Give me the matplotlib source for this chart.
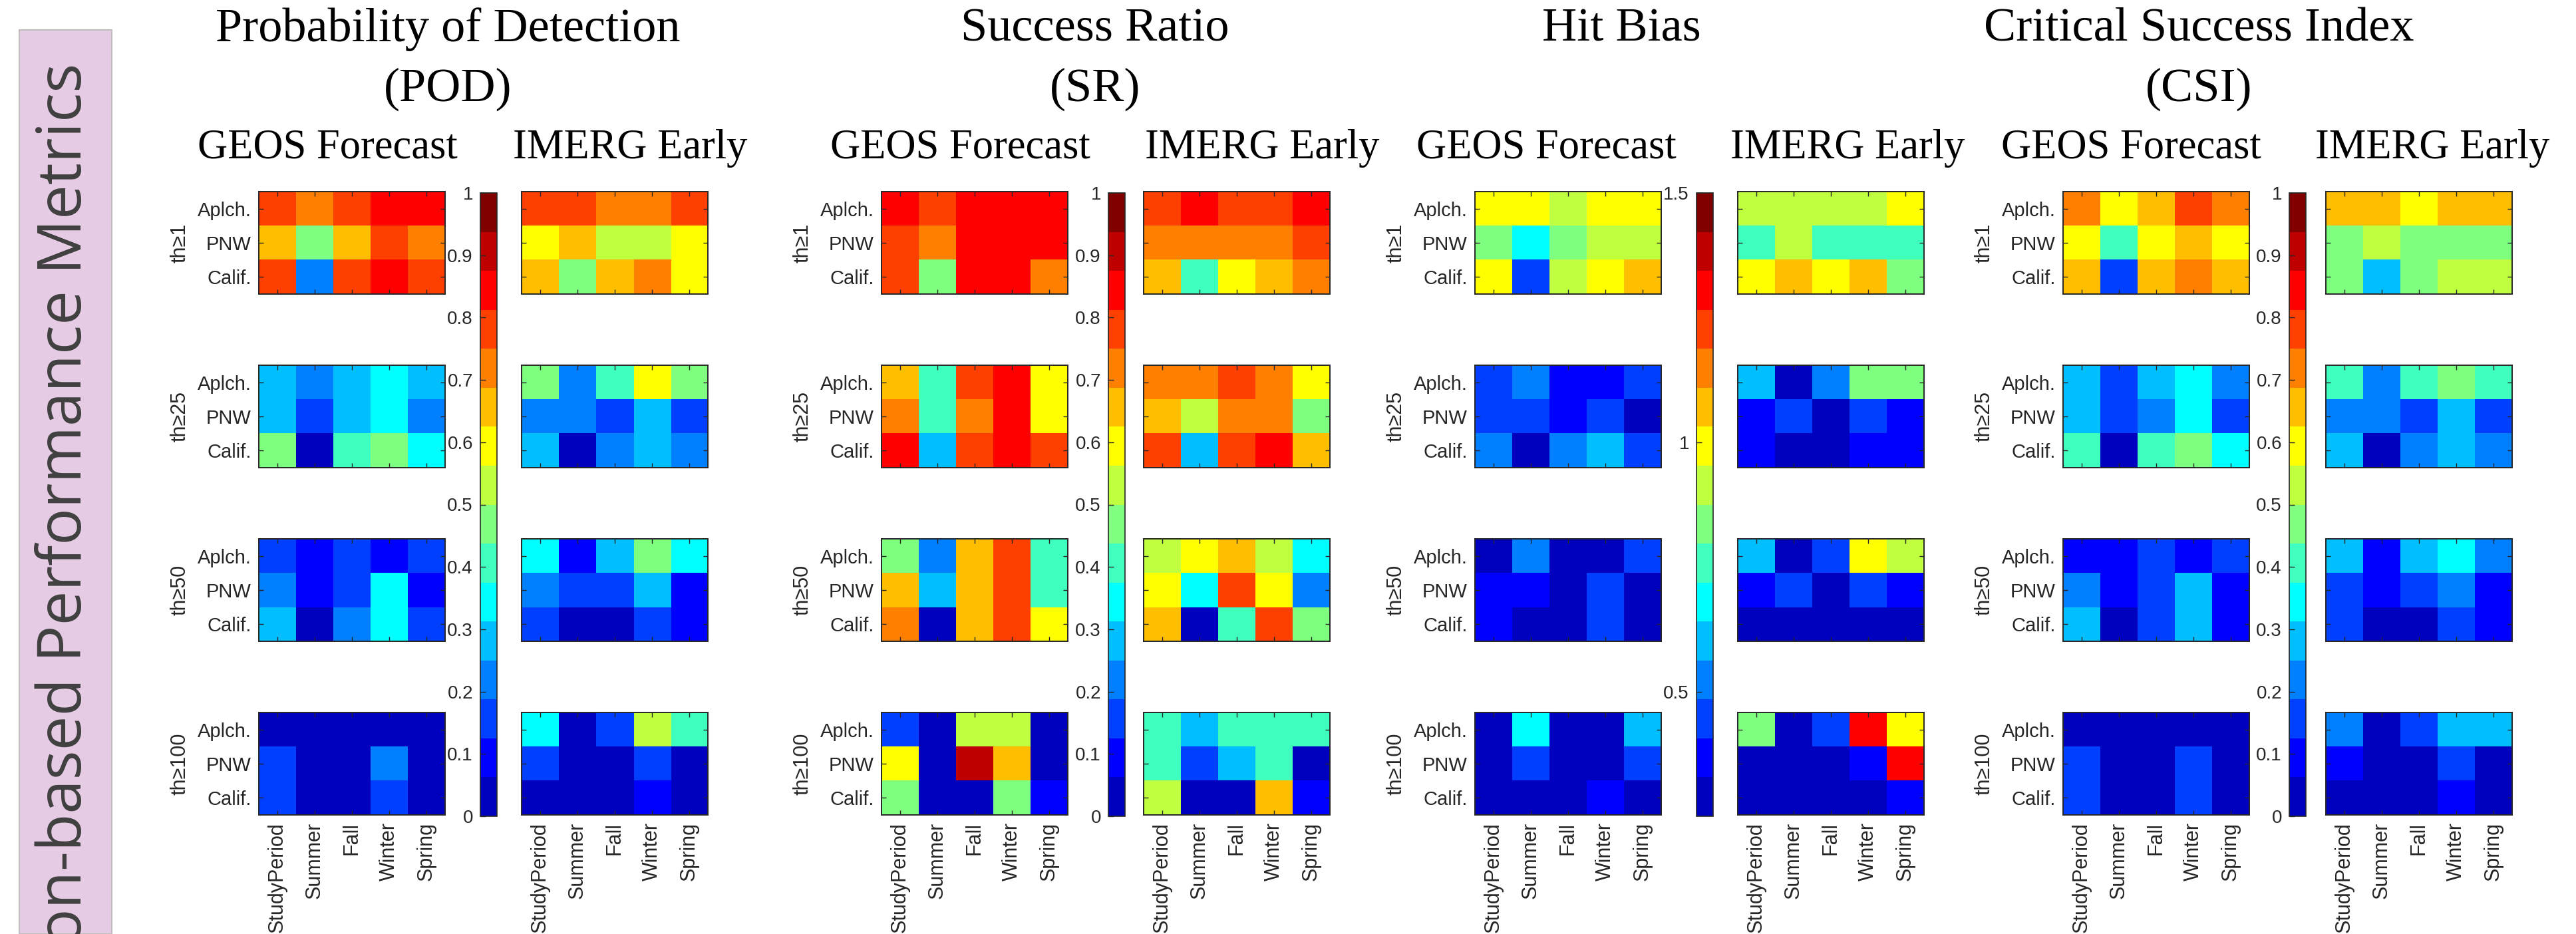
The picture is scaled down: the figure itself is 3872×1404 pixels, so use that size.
import numpy as np
import matplotlib
matplotlib.use("Agg")
import matplotlib.pyplot as plt
from matplotlib.colors import ListedColormap, Normalize
from matplotlib.patches import Rectangle
import matplotlib.cm as cm

# ---- data ----
regions = ["Aplch.", "PNW", "Calif."]
seasons = ["StudyPeriod", "Summer", "Fall", "Winter", "Spring"]
thresholds = ["th\u22651", "th\u226525", "th\u226550", "th\u2265100"]
sources = ["GEOS Forecast", "IMERG Early"]
metric_titles = ["Probability of Detection\n(POD)", "Success Ratio\n(SR)",
                 "Hit Bias\n ", "Critical Success Index\n(CSI)"]

pod_geos = [
    [[0.78, 0.72, 0.78, 0.84, 0.84], [0.66, 0.47, 0.66, 0.78, 0.72], [0.78, 0.22, 0.78, 0.84, 0.78]],
    [[0.28, 0.22, 0.28, 0.34, 0.28], [0.28, 0.16, 0.28, 0.34, 0.22], [0.47, 0.03, 0.41, 0.47, 0.34]],
    [[0.16, 0.09, 0.16, 0.09, 0.16], [0.22, 0.09, 0.16, 0.34, 0.09], [0.28, 0.03, 0.22, 0.34, 0.16]],
    [[0.03, 0.03, 0.03, 0.03, 0.03], [0.16, 0.03, 0.03, 0.22, 0.03], [0.16, 0.03, 0.03, 0.16, 0.03]],
]
pod_imerg = [
    [[0.78, 0.78, 0.72, 0.72, 0.78], [0.59, 0.66, 0.53, 0.53, 0.59], [0.66, 0.47, 0.66, 0.72, 0.59]],
    [[0.47, 0.22, 0.41, 0.59, 0.47], [0.22, 0.22, 0.16, 0.28, 0.16], [0.28, 0.03, 0.22, 0.28, 0.22]],
    [[0.34, 0.09, 0.28, 0.47, 0.34], [0.22, 0.16, 0.16, 0.28, 0.09], [0.16, 0.03, 0.03, 0.16, 0.09]],
    [[0.34, 0.03, 0.16, 0.53, 0.41], [0.16, 0.03, 0.03, 0.16, 0.03], [0.03, 0.03, 0.03, 0.09, 0.03]],
]
sr_geos = [
    [[0.84, 0.78, 0.84, 0.84, 0.84], [0.78, 0.72, 0.84, 0.84, 0.84], [0.78, 0.47, 0.84, 0.84, 0.72]],
    [[0.66, 0.41, 0.78, 0.84, 0.59], [0.72, 0.41, 0.72, 0.84, 0.59], [0.84, 0.28, 0.78, 0.84, 0.78]],
    [[0.47, 0.22, 0.66, 0.78, 0.41], [0.66, 0.28, 0.66, 0.78, 0.41], [0.72, 0.03, 0.66, 0.78, 0.59]],
    [[0.16, 0.03, 0.53, 0.53, 0.03], [0.59, 0.03, 0.91, 0.66, 0.03], [0.47, 0.03, 0.03, 0.47, 0.09]],
]
sr_imerg = [
    [[0.78, 0.84, 0.78, 0.78, 0.84], [0.72, 0.72, 0.72, 0.72, 0.78], [0.66, 0.41, 0.59, 0.66, 0.72]],
    [[0.72, 0.72, 0.78, 0.72, 0.59], [0.66, 0.53, 0.72, 0.72, 0.47], [0.78, 0.28, 0.78, 0.84, 0.66]],
    [[0.53, 0.59, 0.66, 0.53, 0.34], [0.59, 0.34, 0.78, 0.59, 0.22], [0.66, 0.03, 0.41, 0.78, 0.47]],
    [[0.41, 0.28, 0.41, 0.41, 0.41], [0.41, 0.16, 0.28, 0.41, 0.03], [0.53, 0.03, 0.03, 0.66, 0.09]],
]
hb_geos = [
    [[0.99, 0.99, 0.91, 0.99, 0.99], [0.84, 0.68, 0.84, 0.91, 0.91], [0.99, 0.45, 0.91, 0.99, 1.07]],
    [[0.45, 0.52, 0.37, 0.37, 0.45], [0.45, 0.45, 0.37, 0.45, 0.29], [0.52, 0.29, 0.52, 0.60, 0.45]],
    [[0.29, 0.52, 0.29, 0.29, 0.45], [0.37, 0.37, 0.29, 0.45, 0.29], [0.37, 0.29, 0.29, 0.45, 0.29]],
    [[0.29, 0.68, 0.29, 0.29, 0.60], [0.29, 0.45, 0.29, 0.29, 0.45], [0.29, 0.29, 0.29, 0.37, 0.29]],
]
hb_imerg = [
    [[0.91, 0.91, 0.91, 0.91, 0.99], [0.76, 0.91, 0.76, 0.76, 0.76], [0.99, 1.07, 0.99, 1.07, 0.84]],
    [[0.60, 0.29, 0.52, 0.84, 0.84], [0.37, 0.45, 0.29, 0.45, 0.37], [0.37, 0.29, 0.29, 0.37, 0.37]],
    [[0.60, 0.29, 0.45, 0.99, 0.91], [0.37, 0.45, 0.29, 0.45, 0.37], [0.29, 0.29, 0.29, 0.29, 0.29]],
    [[0.84, 0.29, 0.45, 1.30, 0.99], [0.29, 0.29, 0.29, 0.37, 1.30], [0.29, 0.29, 0.29, 0.29, 0.37]],
]
csi_geos = [
    [[0.72, 0.59, 0.66, 0.78, 0.72], [0.59, 0.41, 0.59, 0.66, 0.59], [0.66, 0.16, 0.66, 0.72, 0.66]],
    [[0.28, 0.16, 0.28, 0.34, 0.22], [0.28, 0.16, 0.22, 0.34, 0.16], [0.41, 0.03, 0.41, 0.47, 0.34]],
    [[0.09, 0.09, 0.16, 0.09, 0.16], [0.22, 0.09, 0.16, 0.28, 0.09], [0.28, 0.03, 0.16, 0.28, 0.09]],
    [[0.03, 0.03, 0.03, 0.03, 0.03], [0.16, 0.03, 0.03, 0.16, 0.03], [0.16, 0.03, 0.03, 0.16, 0.03]],
]
csi_imerg = [
    [[0.66, 0.66, 0.59, 0.66, 0.66], [0.47, 0.53, 0.47, 0.47, 0.47], [0.47, 0.28, 0.47, 0.53, 0.53]],
    [[0.41, 0.22, 0.41, 0.47, 0.41], [0.22, 0.22, 0.16, 0.28, 0.16], [0.28, 0.03, 0.22, 0.28, 0.22]],
    [[0.28, 0.09, 0.28, 0.34, 0.22], [0.16, 0.09, 0.16, 0.22, 0.09], [0.16, 0.03, 0.03, 0.16, 0.09]],
    [[0.22, 0.03, 0.16, 0.28, 0.28], [0.09, 0.03, 0.03, 0.16, 0.03], [0.03, 0.03, 0.03, 0.09, 0.03]],
]

metric_data = [(pod_geos, pod_imerg), (sr_geos, sr_imerg), (hb_geos, hb_imerg), (csi_geos, csi_imerg)]
metric_ranges = [(0, 1), (0, 1), (0.25, 1.5), (0, 1)]
cbar_ticks = [
    [0, 0.1, 0.2, 0.3, 0.4, 0.5, 0.6, 0.7, 0.8, 0.9, 1],
    [0, 0.1, 0.2, 0.3, 0.4, 0.5, 0.6, 0.7, 0.8, 0.9, 1],
    [0.5, 1, 1.5],
    [0, 0.1, 0.2, 0.3, 0.4, 0.5, 0.6, 0.7, 0.8, 0.9, 1],
]

# matlab jet(16)
jet16 = ListedColormap([
    (0, 0, 0.75), (0, 0, 1), (0, 0.25, 1), (0, 0.5, 1), (0, 0.75, 1), (0, 1, 1),
    (0.25, 1, 0.75), (0.5, 1, 0.5), (0.75, 1, 0.25), (1, 1, 0), (1, 0.75, 0),
    (1, 0.5, 0), (1, 0.25, 0), (1, 0, 0), (0.75, 0, 0), (0.5, 0, 0)])

# ---- layout in pixels ----
W, H = 3873, 1404
fig = plt.figure(figsize=(W / 100, H / 100), dpi=100)

def box(x, y, w, h):
    return [x / W, 1 - (y + h) / H, w / W, h / H]

geos_left = [389, 1325, 2217, 3101]
cbar_left = [722, 1666, 2550, 3441]
imerg_left = [784, 1719, 2612, 3496]
title_x = [673, 1646, 2437, 3305]
sub_geos_x = [492, 1443, 2324, 3203]
sub_imerg_x = [947, 1897, 2777, 3656]
row_top = [288, 549, 810, 1071]
hm_w, hm_h = 280, 154
cb_w = 25
cb_top, cb_bot = 290, 1227

dark = "#262626"
sans = "Liberation Sans"
serif = "Liberation Serif"

# pink side panel
fig.add_artist(Rectangle((29 / W, 0), 139 / W, 1 - 45 / H, transform=fig.transFigure,
                         facecolor="#e6cbe4", edgecolor="#bdbdbd", lw=1.5))
fig.text(98 / W, 1 - 95 / H, "on-based Performance Metrics", rotation=90,
         ha="center", va="top", fontsize=66.5, family="Open Sans", color="#404040")

for m in range(4):
    vmin, vmax = metric_ranges[m]
    norm = Normalize(vmin=vmin, vmax=vmax)
    t1, t2 = metric_titles[m].split("\n")
    fig.text(title_x[m] / W, 1 - 62 / H, t1, ha="center", va="baseline",
             fontsize=52, family=serif)
    fig.text(title_x[m] / W, 1 - 152 / H, t2, ha="center", va="baseline",
             fontsize=52, family=serif)
    fig.text(sub_geos_x[m] / W, 1 - 238 / H, sources[0], ha="center", va="baseline",
             fontsize=45, family=serif)
    fig.text(sub_imerg_x[m] / W, 1 - 238 / H, sources[1], ha="center", va="baseline",
             fontsize=45, family=serif)

    for s, left in enumerate([geos_left[m], imerg_left[m]]):
        arrs = metric_data[m][s]
        for r in range(4):
            ax = fig.add_axes(box(left, row_top[r], hm_w, hm_h))
            ax.imshow(np.array(arrs[r]), cmap=jet16, norm=norm, aspect="auto",
                      interpolation="nearest")
            ax.set_xticks(range(len(seasons)))
            ax.set_yticks(range(len(regions)))
            ax.tick_params(direction="in", length=5, width=1, colors=dark,
                           top=True, right=True, labelsize=21, pad=8)
            ax.tick_params(axis="x", labelsize=22)
            for sp in ax.spines.values():
                sp.set_color(dark)
                sp.set_linewidth(1.4)
            if r == 3:
                ax.set_xticklabels(seasons, rotation=90, family=sans, color=dark)
            else:
                ax.set_xticklabels([])
            if s == 0:
                ax.set_yticklabels(regions, family=sans, color=dark)
                ax.set_ylabel(thresholds[r], fontsize=22, family=sans, color=dark,
                              labelpad=8)
            else:
                ax.set_yticklabels([])

    cax = fig.add_axes(box(cbar_left[m], cb_top, cb_w, cb_bot - cb_top))
    cb = fig.colorbar(cm.ScalarMappable(norm=norm, cmap=jet16), cax=cax)
    cb.set_ticks(cbar_ticks[m])
    cb.set_ticklabels([("%g" % t) for t in cbar_ticks[m]])
    cax.yaxis.set_ticks_position("left")
    cax.yaxis.set_label_position("left")
    cax.tick_params(direction="in", length=6, width=1, colors=dark, labelsize=20, pad=8)
    for lab in cax.get_yticklabels():
        lab.set_family(sans)
    cb.outline.set_edgecolor(dark)
    cb.outline.set_linewidth(1.2)

fig.savefig("out.png", dpi=100, facecolor="white")
